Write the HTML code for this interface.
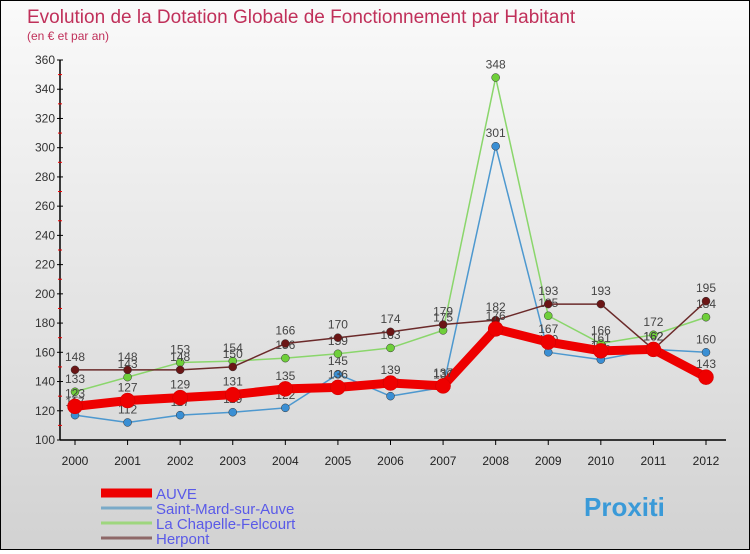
<!DOCTYPE html>
<html><head><meta charset="utf-8"><style>
body{margin:0;width:750px;height:550px;overflow:hidden;font-family:"Liberation Sans",sans-serif}
#wrap{position:relative;width:748px;height:548px;border:1px solid #000;background:linear-gradient(#fafafa,#d2d2d2)}
</style></head><body>
<div id="wrap">
<svg id="chart" width="748" height="548"></svg>
</div>
<script>
const years=["2000","2001","2002","2003","2004","2005","2006","2007","2008","2009","2010","2011","2012"];
const auve=[123,127,129,131,135,136,139,137,176,167,161,162,143];
const saintMard=[117,112,117,119,122,145,130,136,301,160,155,162,160];
const chapelle=[133,143,153,154,156,159,163,175,348,185,166,172,184];
const herpont=[148,148,148,150,166,170,174,179,182,193,193,162,195];
const yTicks=[100,120,140,160,180,200,220,240,260,280,300,320,340,360];
const NS="http://www.w3.org/2000/svg";
const svg=document.getElementById('chart');
const X=i=>74+i*(705-74)/(years.length-1);
const Y=v=>439-(v-100)*(380/260);
function el(t,a,p){const e=document.createElementNS(NS,t);for(const k in a)e.setAttribute(k,a[k]);(p||svg).appendChild(e);return e;}
let t=el('text',{x:26,y:22,'font-size':19,fill:'#c0305a'});t.textContent='Evolution de la Dotation Globale de Fonctionnement par Habitant';

t=el('text',{x:26,y:39,'font-size':12,fill:'#c0305a'});t.textContent='(en € et par an)';

let ax=el('line',{x1:59,y1:Y(360),x2:59,y2:Y(100),stroke:'#000','stroke-width':1.5});

ax=el('line',{x1:59,y1:Y(100),x2:725,y2:Y(100),stroke:'#000','stroke-width':1.5});

yTicks.forEach((v,i)=>{el('line',{x1:56,x2:62,y1:Y(v),y2:Y(v),stroke:'#000'});
 if(i<yTicks.length-1)el('line',{x1:57,x2:61,y1:Y(v+10),y2:Y(v+10),stroke:'#e00'});
 const tx=el('text',{x:54,y:Y(v)+4,'font-size':12,fill:'#333','text-anchor':'end'});tx.textContent=v;
 });
years.forEach((y,i)=>{el('line',{x1:X(i),x2:X(i),y1:Y(100),y2:Y(100)+5,stroke:'#000'});
 const tx=el('text',{x:X(i),y:464,'font-size':12,fill:'#222','text-anchor':'middle'});tx.textContent=y;
 });
const series=[
 {name:'saint-mard',data:saintMard,color:'#4d98cf',w:1.5,r:4,fill:'#3a8fd4'},
 {name:'la-chapelle',data:chapelle,color:'#8ad66b',w:1.5,r:4,fill:'#6fcf3a'},
 {name:'herpont',data:herpont,color:'#6b2a2a',w:1.5,r:4,fill:'#6b1515'},
 {name:'auve',data:auve,color:'#ee0000',w:9,r:7.5,fill:'#ee0000'}];
series.forEach(s=>{
 const g=el('g',{});
 el('polyline',{points:s.data.map((v,i)=>X(i)+','+Y(v)).join(' '),fill:'none',stroke:s.color,'stroke-width':s.w,'stroke-linejoin':'round'},g);
 s.data.forEach((v,i)=>{const c=el('circle',{cx:X(i),cy:Y(v),r:s.r,fill:s.fill,stroke:s.w>2?'#c00':'#333','stroke-width':0.5},g);
  
  const tx=el('text',{x:X(i),y:Y(v)-9,'font-size':12,fill:'#444','text-anchor':'middle'},g);tx.textContent=v;
  });
});
const leg=[['AUVE','#ee0000',9],['Saint-Mard-sur-Auve','#7aaac8',3],['La Chapelle-Felcourt','#9ed67e',3],['Herpont','#8e6868',3]];
leg.forEach((l,i)=>{const g=el('g',{});
 const yy=492+i*15;el('line',{x1:100,x2:151,y1:yy,y2:yy,stroke:l[1],'stroke-width':l[2]},g);
 const tx=el('text',{x:155,y:yy+6,'font-size':15,fill:'#5a5ae8'},g);tx.textContent=l[0];});
t=el('text',{x:583,y:515,'font-size':26,'font-weight':'bold',fill:'#3a9ad8'});t.textContent='Proxiti';

</script>
</body></html>
